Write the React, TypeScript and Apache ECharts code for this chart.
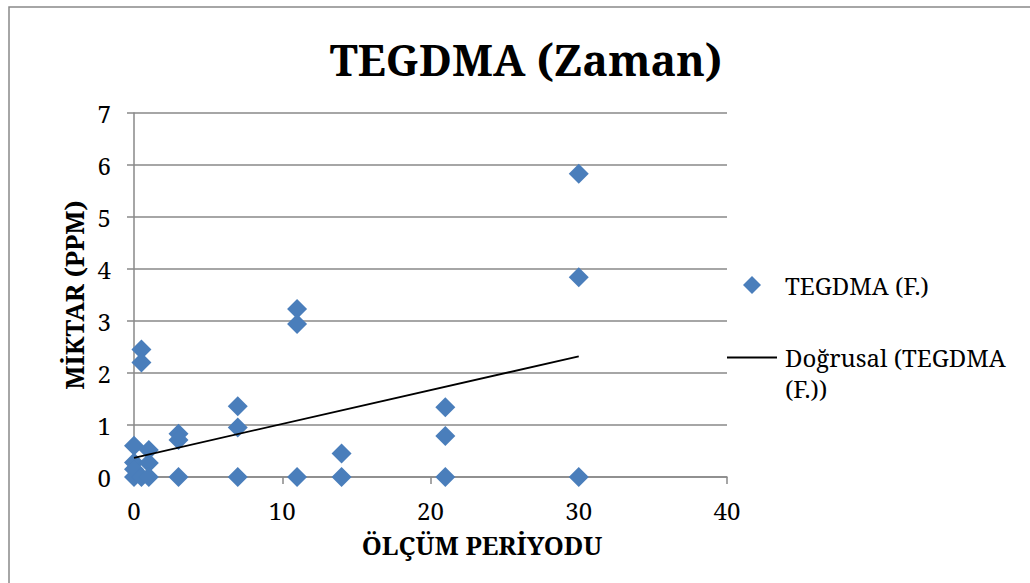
import React, { useEffect, useRef } from "react";
import * as echarts from "echarts";

const olcumX = [0, 0, 0, 0, 0.5, 0.5, 0.5, 1, 1, 1, 3, 3, 3, 7, 7, 7, 11, 11, 11, 14, 14, 21, 21, 21, 30, 30, 30];
const miktarY = [0.6, 0.28, 0.15, 0, 2.45, 2.2, 0, 0.52, 0.27, 0, 0.83, 0.71, 0, 1.36, 0.95, 0, 3.23, 2.94, 0, 0.45, 0, 1.34, 0.79, 0, 5.83, 3.84, 0];
const trendX = [0, 30];
const trendY = [0.37, 2.32];
const xTicks = [0, 10, 20, 30, 40];
const yTicks = [0, 1, 2, 3, 4, 5, 6, 7];

const titleText = "TEGDMA (Zaman)";
const xName = "ÖLÇÜM PERİYODU";
const yName = "MİKTAR (PPM)";
const scatterName = "TEGDMA (F.)";
const trendName = "Doğrusal (TEGDMA (F.))";

const FONT = "Noto Serif";
const GRAY = "#898989";
const BLUE = "#4A7EBB";
const FS = 24;
const NAME_FS = 25.5;

export default function App() {
  const ref = useRef<HTMLDivElement>(null);
  useEffect(() => {
    if (!ref.current) return;
    const chart = echarts.init(ref.current, null, { renderer: "svg" });
    const option = {
      animation: false,
      backgroundColor: "#ffffff",
      textStyle: { fontFamily: FONT },
      graphic: [
        {
          type: "rect",
          shape: { x: 9, y: 7, width: 1040, height: 600 },
          style: { fill: "none", stroke: GRAY, lineWidth: 1.5 },
          silent: true,
          z: -10,
        },
        {
          type: "text",
          x: 526,
          y: 59,
          style: {
            text: titleText,
            fontFamily: FONT,
            fontSize: 43,
            fontWeight: "bold",
            fill: "#000",
            align: "center",
            verticalAlign: "middle",
          },
        },
        {
          type: "text",
          x: 482,
          y: 545,
          style: {
            text: xName,
            fontFamily: FONT,
            fontSize: NAME_FS,
            fontWeight: "bold",
            fill: "#000",
            align: "center",
            verticalAlign: "middle",
          },
        },
      ],
      legend: [
        {
          data: [scatterName],
          left: 743,
          top: 270,
          padding: 0,
          orient: "vertical",
          itemWidth: 18,
          itemHeight: 18,
          selectedMode: false,
          textStyle: { fontFamily: FONT, fontSize: FS, color: "#000", lineHeight: 30, padding: [0, 0, 0, 19] },
        },
        {
          data: [trendName],
          left: 727,
          top: 311,
          padding: 0,
          orient: "vertical",
          icon: "rect",
          itemWidth: 50,
          itemHeight: 2,
          itemStyle: { color: "#000" },
          selectedMode: false,
          formatter: () => " \nDoğrusal (TEGDMA\n(F.))",
          textStyle: { fontFamily: FONT, fontSize: FS, color: "#000", lineHeight: 31, padding: [0, 0, 0, 3] },
        },
      ],
      grid: { left: 134, top: 113, right: 303, bottom: 106, containLabel: false },
      xAxis: {
        type: "value",
        min: xTicks[0],
        max: xTicks[xTicks.length - 1],
        interval: xTicks[1] - xTicks[0],
        axisLine: { show: true, lineStyle: { color: GRAY, width: 1.5 } },
        axisTick: { show: true, inside: false, length: 7, lineStyle: { color: GRAY, width: 1.5 } },
        axisLabel: { fontFamily: FONT, fontSize: FS, color: "#000", margin: 21 },
        splitLine: { show: false },
      },
      yAxis: {
        type: "value",
        min: yTicks[0],
        max: yTicks[yTicks.length - 1],
        interval: yTicks[1] - yTicks[0],
        name: yName,
        nameLocation: "middle",
        nameGap: 44,
        nameRotate: 90,
        nameTextStyle: { fontFamily: FONT, fontSize: NAME_FS, fontWeight: "bold", color: "#000" },
        axisLine: { show: true, lineStyle: { color: GRAY, width: 1.5 } },
        axisTick: { show: true, inside: false, length: 7, lineStyle: { color: GRAY, width: 1.5 } },
        axisLabel: { fontFamily: FONT, fontSize: FS, color: "#000", margin: 23 },
        splitLine: { show: true, lineStyle: { color: GRAY, width: 1.5 } },
      },
      series: [
        {
          name: scatterName,
          type: "scatter",
          symbol: "diamond",
          symbolSize: 20,
          itemStyle: { color: BLUE, opacity: 1 },
          data: olcumX.map((x, i) => [x, miktarY[i]]),
          z: 3,
        },
        {
          name: trendName,
          type: "line",
          symbol: "none",
          showSymbol: false,
          lineStyle: { color: "#000", width: 1.8 },
          itemStyle: { color: "#000" },
          data: trendX.map((x, i) => [x, trendY[i]]),
          z: 4,
        },
      ],
    };
    chart.setOption(option as any);
    return () => chart.dispose();
  }, []);
  return (
    <div
      ref={ref}
      style={{ position: "fixed", left: 0, top: 0, width: 1030, height: 583 }}
    />
  );
}
